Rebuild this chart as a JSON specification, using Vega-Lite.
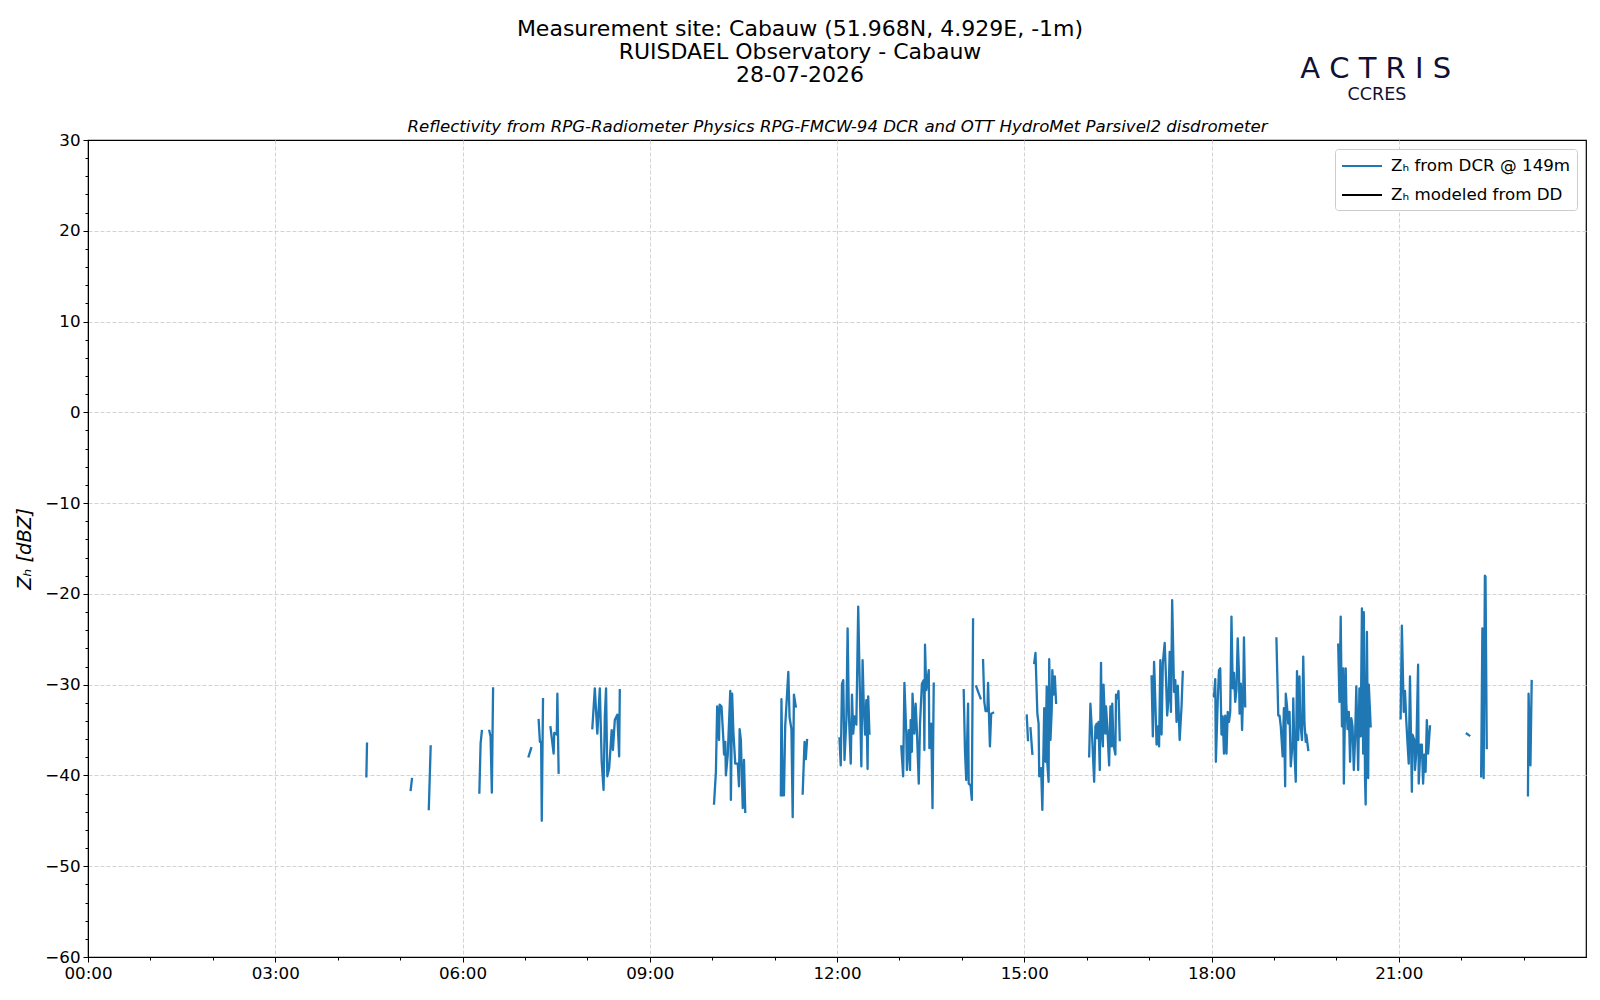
{
  "$schema": "https://vega.github.io/schema/vega-lite/v6.json",
  "autosize": {"type": "none"},
  "padding": {"left": 88, "top": 140, "right": 14, "bottom": 43},
  "width": 1498,
  "height": 817,
  "background": "white",
  "config": {
    "font": "DejaVu Sans",
    "view": {"stroke": "black", "strokeWidth": 1.2},
    "axis": {
      "labelFont": "DejaVu Sans",
      "labelFontSize": 16.7,
      "labelColor": "black",
      "domainColor": "black",
      "tickColor": "black",
      "gridColor": "#d3d3d3",
      "gridDash": [4, 2],
      "gridWidth": 1
    }
  },
  "title": {
    "text": ["Measurement site: Cabauw (51.968N, 4.929E, -1m)", "RUISDAEL Observatory - Cabauw", "28-07-2026"],
    "font": "DejaVu Sans",
    "fontSize": 22,
    "fontWeight": "normal",
    "color": "black",
    "anchor": "middle",
    "frame": "group",
    "dx": -37,
    "lineHeight": 23,
    "offset": -32
  },
  "data": {
    "values": [
      {"segment": 1, "hour": 4.46, "zh": -40.1}, {"segment": 1, "hour": 4.47, "zh": -36.5},
      {"segment": 2, "hour": 5.17, "zh": -41.6}, {"segment": 2, "hour": 5.19, "zh": -40.4},
      {"segment": 3, "hour": 5.46, "zh": -43.7}, {"segment": 3, "hour": 5.49, "zh": -36.8},
      {"segment": 4, "hour": 6.27, "zh": -41.9}, {"segment": 4, "hour": 6.29, "zh": -36.5}, {"segment": 4, "hour": 6.31, "zh": -35.1},
      {"segment": 5, "hour": 6.43, "zh": -35.1}, {"segment": 5, "hour": 6.45, "zh": -35.7}, {"segment": 5, "hour": 6.47, "zh": -41.9}, {"segment": 5, "hour": 6.49, "zh": -30.4},
      {"segment": 6, "hour": 7.06, "zh": -37.9}, {"segment": 6, "hour": 7.10, "zh": -37.0},
      {"segment": 7, "hour": 7.22, "zh": -33.9}, {"segment": 7, "hour": 7.24, "zh": -36.3}, {"segment": 7, "hour": 7.26, "zh": -36.3}, {"segment": 7, "hour": 7.27, "zh": -45.0}, {"segment": 7, "hour": 7.29, "zh": -31.6},
      {"segment": 8, "hour": 7.41, "zh": -34.7}, {"segment": 8, "hour": 7.46, "zh": -37.6}, {"segment": 8, "hour": 7.47, "zh": -35.3}, {"segment": 8, "hour": 7.51, "zh": -35.5}, {"segment": 8, "hour": 7.52, "zh": -31.0}, {"segment": 8, "hour": 7.54, "zh": -39.7},
      {"segment": 9, "hour": 8.08, "zh": -34.8}, {"segment": 9, "hour": 8.12, "zh": -30.4}, {"segment": 9, "hour": 8.16, "zh": -35.4}, {"segment": 9, "hour": 8.20, "zh": -30.4}, {"segment": 9, "hour": 8.23, "zh": -38.5}, {"segment": 9, "hour": 8.26, "zh": -41.6}, {"segment": 9, "hour": 8.28, "zh": -33.5}, {"segment": 9, "hour": 8.30, "zh": -30.4}, {"segment": 9, "hour": 8.32, "zh": -40.1}, {"segment": 9, "hour": 8.35, "zh": -39.2}, {"segment": 9, "hour": 8.39, "zh": -35.0}, {"segment": 9, "hour": 8.41, "zh": -37.2}, {"segment": 9, "hour": 8.44, "zh": -33.9}, {"segment": 9, "hour": 8.48, "zh": -33.3}, {"segment": 9, "hour": 8.51, "zh": -37.9}, {"segment": 9, "hour": 8.52, "zh": -30.6},
      {"segment": 10, "hour": 10.03, "zh": -43.1}, {"segment": 10, "hour": 10.06, "zh": -39.6}, {"segment": 10, "hour": 10.08, "zh": -32.4}, {"segment": 10, "hour": 10.11, "zh": -36.1}, {"segment": 10, "hour": 10.12, "zh": -32.2}, {"segment": 10, "hour": 10.15, "zh": -32.4}, {"segment": 10, "hour": 10.18, "zh": -36.1}, {"segment": 10, "hour": 10.19, "zh": -37.7}, {"segment": 10, "hour": 10.21, "zh": -36.3}, {"segment": 10, "hour": 10.22, "zh": -40.0}, {"segment": 10, "hour": 10.25, "zh": -37.7}, {"segment": 10, "hour": 10.29, "zh": -30.7}, {"segment": 10, "hour": 10.30, "zh": -42.7}, {"segment": 10, "hour": 10.32, "zh": -31.0}, {"segment": 10, "hour": 10.34, "zh": -35.2}, {"segment": 10, "hour": 10.37, "zh": -38.7}, {"segment": 10, "hour": 10.41, "zh": -38.7}, {"segment": 10, "hour": 10.43, "zh": -41.2}, {"segment": 10, "hour": 10.44, "zh": -34.9}, {"segment": 10, "hour": 10.46, "zh": -36.1}, {"segment": 10, "hour": 10.49, "zh": -43.6}, {"segment": 10, "hour": 10.51, "zh": -38.3}, {"segment": 10, "hour": 10.53, "zh": -44.0},
      {"segment": 11, "hour": 11.10, "zh": -42.2}, {"segment": 11, "hour": 11.11, "zh": -31.6}, {"segment": 11, "hour": 11.13, "zh": -42.2}, {"segment": 11, "hour": 11.15, "zh": -42.2}, {"segment": 11, "hour": 11.17, "zh": -34.6}, {"segment": 11, "hour": 11.22, "zh": -28.6}, {"segment": 11, "hour": 11.24, "zh": -33.6}, {"segment": 11, "hour": 11.27, "zh": -34.9}, {"segment": 11, "hour": 11.29, "zh": -44.6}, {"segment": 11, "hour": 11.31, "zh": -31.1}, {"segment": 11, "hour": 11.34, "zh": -32.4},
      {"segment": 12, "hour": 11.45, "zh": -42.0}, {"segment": 12, "hour": 11.48, "zh": -36.3}, {"segment": 12, "hour": 11.50, "zh": -38.2}, {"segment": 12, "hour": 11.52, "zh": -36.1},
      {"segment": 13, "hour": 12.04, "zh": -35.9}, {"segment": 13, "hour": 12.06, "zh": -38.9}, {"segment": 13, "hour": 12.08, "zh": -29.9}, {"segment": 13, "hour": 12.10, "zh": -29.5}, {"segment": 13, "hour": 12.12, "zh": -38.3}, {"segment": 13, "hour": 12.15, "zh": -33.9}, {"segment": 13, "hour": 12.17, "zh": -23.8}, {"segment": 13, "hour": 12.19, "zh": -33.2}, {"segment": 13, "hour": 12.22, "zh": -38.7}, {"segment": 13, "hour": 12.24, "zh": -31.1}, {"segment": 13, "hour": 12.26, "zh": -35.4}, {"segment": 13, "hour": 12.28, "zh": -33.5}, {"segment": 13, "hour": 12.31, "zh": -34.4}, {"segment": 13, "hour": 12.34, "zh": -21.4}, {"segment": 13, "hour": 12.39, "zh": -39.0}, {"segment": 13, "hour": 12.41, "zh": -27.3}, {"segment": 13, "hour": 12.43, "zh": -32.6}, {"segment": 13, "hour": 12.45, "zh": -35.5}, {"segment": 13, "hour": 12.47, "zh": -31.7}, {"segment": 13, "hour": 12.49, "zh": -39.3}, {"segment": 13, "hour": 12.50, "zh": -31.3}, {"segment": 13, "hour": 12.52, "zh": -35.4},
      {"segment": 14, "hour": 13.03, "zh": -36.8}, {"segment": 14, "hour": 13.06, "zh": -40.1}, {"segment": 14, "hour": 13.08, "zh": -29.8}, {"segment": 14, "hour": 13.11, "zh": -35.4}, {"segment": 14, "hour": 13.12, "zh": -39.4}, {"segment": 14, "hour": 13.15, "zh": -35.0}, {"segment": 14, "hour": 13.17, "zh": -39.4}, {"segment": 14, "hour": 13.18, "zh": -33.9}, {"segment": 14, "hour": 13.20, "zh": -37.4}, {"segment": 14, "hour": 13.21, "zh": -31.0}, {"segment": 14, "hour": 13.24, "zh": -35.4}, {"segment": 14, "hour": 13.26, "zh": -32.1}, {"segment": 14, "hour": 13.28, "zh": -35.0}, {"segment": 14, "hour": 13.31, "zh": -40.9}, {"segment": 14, "hour": 13.33, "zh": -34.3}, {"segment": 14, "hour": 13.36, "zh": -29.9}, {"segment": 14, "hour": 13.39, "zh": -29.5}, {"segment": 14, "hour": 13.40, "zh": -37.2}, {"segment": 14, "hour": 13.41, "zh": -25.6}, {"segment": 14, "hour": 13.43, "zh": -30.6}, {"segment": 14, "hour": 13.47, "zh": -28.4}, {"segment": 14, "hour": 13.48, "zh": -37.0}, {"segment": 14, "hour": 13.51, "zh": -34.3}, {"segment": 14, "hour": 13.53, "zh": -43.6}, {"segment": 14, "hour": 13.55, "zh": -29.9},
      {"segment": 15, "hour": 14.03, "zh": -30.6}, {"segment": 15, "hour": 14.05, "zh": -37.2}, {"segment": 15, "hour": 14.07, "zh": -40.5}, {"segment": 15, "hour": 14.10, "zh": -32.1}, {"segment": 15, "hour": 14.11, "zh": -40.9}, {"segment": 15, "hour": 14.14, "zh": -41.1}, {"segment": 15, "hour": 14.16, "zh": -42.7}, {"segment": 15, "hour": 14.18, "zh": -22.8},
      {"segment": 16, "hour": 14.23, "zh": -30.2}, {"segment": 16, "hour": 14.30, "zh": -31.5},
      {"segment": 17, "hour": 14.34, "zh": -27.3}, {"segment": 17, "hour": 14.36, "zh": -31.9}, {"segment": 17, "hour": 14.38, "zh": -32.9}, {"segment": 17, "hour": 14.41, "zh": -32.9}, {"segment": 17, "hour": 14.42, "zh": -29.8}, {"segment": 17, "hour": 14.45, "zh": -36.8}, {"segment": 17, "hour": 14.47, "zh": -33.2}, {"segment": 17, "hour": 14.50, "zh": -33.1},
      {"segment": 18, "hour": 15.04, "zh": -33.4}, {"segment": 18, "hour": 15.06, "zh": -36.1},
      {"segment": 19, "hour": 15.10, "zh": -34.8}, {"segment": 19, "hour": 15.13, "zh": -37.6},
      {"segment": 20, "hour": 15.16, "zh": -27.6}, {"segment": 20, "hour": 15.18, "zh": -26.5}, {"segment": 20, "hour": 15.21, "zh": -33.2}, {"segment": 20, "hour": 15.23, "zh": -34.3}, {"segment": 20, "hour": 15.24, "zh": -40.1}, {"segment": 20, "hour": 15.27, "zh": -39.2}, {"segment": 20, "hour": 15.29, "zh": -43.8}, {"segment": 20, "hour": 15.32, "zh": -32.6}, {"segment": 20, "hour": 15.34, "zh": -38.5}, {"segment": 20, "hour": 15.36, "zh": -30.2}, {"segment": 20, "hour": 15.37, "zh": -38.7}, {"segment": 20, "hour": 15.39, "zh": -40.7}, {"segment": 20, "hour": 15.40, "zh": -27.2}, {"segment": 20, "hour": 15.42, "zh": -36.1}, {"segment": 20, "hour": 15.44, "zh": -32.8}, {"segment": 20, "hour": 15.45, "zh": -28.4}, {"segment": 20, "hour": 15.47, "zh": -31.1}, {"segment": 20, "hour": 15.49, "zh": -29.1}, {"segment": 20, "hour": 15.51, "zh": -32.0},
      {"segment": 21, "hour": 16.04, "zh": -37.9}, {"segment": 21, "hour": 16.06, "zh": -32.1}, {"segment": 21, "hour": 16.08, "zh": -34.6}, {"segment": 21, "hour": 16.12, "zh": -40.7}, {"segment": 21, "hour": 16.14, "zh": -34.6}, {"segment": 21, "hour": 16.16, "zh": -34.3}, {"segment": 21, "hour": 16.17, "zh": -35.9}, {"segment": 21, "hour": 16.19, "zh": -34.1}, {"segment": 21, "hour": 16.21, "zh": -39.4}, {"segment": 21, "hour": 16.23, "zh": -27.6}, {"segment": 21, "hour": 16.24, "zh": -34.6}, {"segment": 21, "hour": 16.26, "zh": -36.8}, {"segment": 21, "hour": 16.27, "zh": -30.0}, {"segment": 21, "hour": 16.30, "zh": -35.4}, {"segment": 21, "hour": 16.31, "zh": -32.4}, {"segment": 21, "hour": 16.33, "zh": -34.6}, {"segment": 21, "hour": 16.36, "zh": -38.9}, {"segment": 21, "hour": 16.38, "zh": -32.4}, {"segment": 21, "hour": 16.40, "zh": -36.8}, {"segment": 21, "hour": 16.41, "zh": -32.1}, {"segment": 21, "hour": 16.43, "zh": -36.6}, {"segment": 21, "hour": 16.46, "zh": -37.7}, {"segment": 21, "hour": 16.47, "zh": -31.1}, {"segment": 21, "hour": 16.49, "zh": -31.5}, {"segment": 21, "hour": 16.51, "zh": -30.7}, {"segment": 21, "hour": 16.53, "zh": -36.1},
      {"segment": 22, "hour": 17.04, "zh": -29.1}, {"segment": 22, "hour": 17.06, "zh": -35.7}, {"segment": 22, "hour": 17.08, "zh": -27.5}, {"segment": 22, "hour": 17.09, "zh": -29.5}, {"segment": 22, "hour": 17.12, "zh": -36.6}, {"segment": 22, "hour": 17.14, "zh": -34.6}, {"segment": 22, "hour": 17.16, "zh": -36.8}, {"segment": 22, "hour": 17.18, "zh": -27.3}, {"segment": 22, "hour": 17.20, "zh": -35.5}, {"segment": 22, "hour": 17.22, "zh": -27.6}, {"segment": 22, "hour": 17.25, "zh": -25.4}, {"segment": 22, "hour": 17.27, "zh": -29.1}, {"segment": 22, "hour": 17.29, "zh": -33.4}, {"segment": 22, "hour": 17.31, "zh": -31.7}, {"segment": 22, "hour": 17.33, "zh": -26.4}, {"segment": 22, "hour": 17.35, "zh": -33.0}, {"segment": 22, "hour": 17.37, "zh": -20.7}, {"segment": 22, "hour": 17.40, "zh": -30.8}, {"segment": 22, "hour": 17.42, "zh": -29.5}, {"segment": 22, "hour": 17.44, "zh": -34.1}, {"segment": 22, "hour": 17.46, "zh": -30.1}, {"segment": 22, "hour": 17.49, "zh": -36.1}, {"segment": 22, "hour": 17.52, "zh": -32.4}, {"segment": 22, "hour": 17.54, "zh": -28.6},
      {"segment": 23, "hour": 18.04, "zh": -31.3}, {"segment": 23, "hour": 18.06, "zh": -29.4}, {"segment": 23, "hour": 18.07, "zh": -38.5}, {"segment": 23, "hour": 18.10, "zh": -31.7}, {"segment": 23, "hour": 18.12, "zh": -28.4}, {"segment": 23, "hour": 18.14, "zh": -28.2}, {"segment": 23, "hour": 18.16, "zh": -35.5}, {"segment": 23, "hour": 18.18, "zh": -33.5}, {"segment": 23, "hour": 18.20, "zh": -37.6}, {"segment": 23, "hour": 18.22, "zh": -33.4}, {"segment": 23, "hour": 18.24, "zh": -37.6}, {"segment": 23, "hour": 18.26, "zh": -33.0}, {"segment": 23, "hour": 18.28, "zh": -34.1}, {"segment": 23, "hour": 18.30, "zh": -33.0}, {"segment": 23, "hour": 18.32, "zh": -22.5}, {"segment": 23, "hour": 18.34, "zh": -30.4}, {"segment": 23, "hour": 18.36, "zh": -28.7}, {"segment": 23, "hour": 18.38, "zh": -31.9}, {"segment": 23, "hour": 18.40, "zh": -30.6}, {"segment": 23, "hour": 18.42, "zh": -24.9}, {"segment": 23, "hour": 18.44, "zh": -28.7}, {"segment": 23, "hour": 18.45, "zh": -33.2}, {"segment": 23, "hour": 18.47, "zh": -29.9}, {"segment": 23, "hour": 18.49, "zh": -35.0}, {"segment": 23, "hour": 18.51, "zh": -30.0}, {"segment": 23, "hour": 18.52, "zh": -24.8}, {"segment": 23, "hour": 18.54, "zh": -32.4},
      {"segment": 24, "hour": 19.04, "zh": -24.9}, {"segment": 24, "hour": 19.07, "zh": -33.4}, {"segment": 24, "hour": 19.09, "zh": -33.4}, {"segment": 24, "hour": 19.11, "zh": -34.6}, {"segment": 24, "hour": 19.14, "zh": -37.9}, {"segment": 24, "hour": 19.16, "zh": -32.6}, {"segment": 24, "hour": 19.18, "zh": -41.2}, {"segment": 24, "hour": 19.19, "zh": -31.0}, {"segment": 24, "hour": 19.21, "zh": -32.4}, {"segment": 24, "hour": 19.23, "zh": -34.3}, {"segment": 24, "hour": 19.25, "zh": -33.0}, {"segment": 24, "hour": 19.27, "zh": -39.0}, {"segment": 24, "hour": 19.30, "zh": -36.3}, {"segment": 24, "hour": 19.31, "zh": -31.5}, {"segment": 24, "hour": 19.33, "zh": -37.6}, {"segment": 24, "hour": 19.35, "zh": -40.7}, {"segment": 24, "hour": 19.37, "zh": -28.5}, {"segment": 24, "hour": 19.39, "zh": -36.1}, {"segment": 24, "hour": 19.41, "zh": -29.1}, {"segment": 24, "hour": 19.42, "zh": -33.9}, {"segment": 24, "hour": 19.45, "zh": -36.1}, {"segment": 24, "hour": 19.47, "zh": -26.9}, {"segment": 24, "hour": 19.49, "zh": -34.3}, {"segment": 24, "hour": 19.51, "zh": -36.3}, {"segment": 24, "hour": 19.52, "zh": -35.5}, {"segment": 24, "hour": 19.55, "zh": -37.2},
      {"segment": 25, "hour": 20.03, "zh": -25.6}, {"segment": 25, "hour": 20.05, "zh": -31.9}, {"segment": 25, "hour": 20.07, "zh": -22.5}, {"segment": 25, "hour": 20.09, "zh": -34.6}, {"segment": 25, "hour": 20.11, "zh": -28.2}, {"segment": 25, "hour": 20.12, "zh": -40.9}, {"segment": 25, "hour": 20.15, "zh": -28.2}, {"segment": 25, "hour": 20.16, "zh": -32.1}, {"segment": 25, "hour": 20.18, "zh": -34.9}, {"segment": 25, "hour": 20.20, "zh": -33.0}, {"segment": 25, "hour": 20.22, "zh": -38.5}, {"segment": 25, "hour": 20.24, "zh": -33.7}, {"segment": 25, "hour": 20.26, "zh": -34.6}, {"segment": 25, "hour": 20.28, "zh": -39.4}, {"segment": 25, "hour": 20.30, "zh": -36.1}, {"segment": 25, "hour": 20.32, "zh": -30.2}, {"segment": 25, "hour": 20.35, "zh": -39.4}, {"segment": 25, "hour": 20.37, "zh": -30.4}, {"segment": 25, "hour": 20.39, "zh": -35.7}, {"segment": 25, "hour": 20.41, "zh": -21.6}, {"segment": 25, "hour": 20.43, "zh": -37.6}, {"segment": 25, "hour": 20.44, "zh": -22.0}, {"segment": 25, "hour": 20.46, "zh": -40.5}, {"segment": 25, "hour": 20.47, "zh": -43.2}, {"segment": 25, "hour": 20.49, "zh": -24.2}, {"segment": 25, "hour": 20.51, "zh": -40.3}, {"segment": 25, "hour": 20.52, "zh": -30.0}, {"segment": 25, "hour": 20.55, "zh": -34.6},
      {"segment": 26, "hour": 21.03, "zh": -33.7}, {"segment": 26, "hour": 21.05, "zh": -23.5}, {"segment": 26, "hour": 21.08, "zh": -33.0}, {"segment": 26, "hour": 21.10, "zh": -30.7}, {"segment": 26, "hour": 21.12, "zh": -33.9}, {"segment": 26, "hour": 21.14, "zh": -36.4}, {"segment": 26, "hour": 21.16, "zh": -38.7}, {"segment": 26, "hour": 21.18, "zh": -29.1}, {"segment": 26, "hour": 21.21, "zh": -41.8}, {"segment": 26, "hour": 21.22, "zh": -35.5}, {"segment": 26, "hour": 21.25, "zh": -36.1}, {"segment": 26, "hour": 21.26, "zh": -39.4}, {"segment": 26, "hour": 21.28, "zh": -37.6}, {"segment": 26, "hour": 21.31, "zh": -27.8}, {"segment": 26, "hour": 21.32, "zh": -40.9}, {"segment": 26, "hour": 21.35, "zh": -36.6}, {"segment": 26, "hour": 21.37, "zh": -36.6}, {"segment": 26, "hour": 21.39, "zh": -40.9}, {"segment": 26, "hour": 21.41, "zh": -37.7}, {"segment": 26, "hour": 21.43, "zh": -39.6}, {"segment": 26, "hour": 21.45, "zh": -33.9}, {"segment": 26, "hour": 21.47, "zh": -37.6}, {"segment": 26, "hour": 21.50, "zh": -34.6},
      {"segment": 27, "hour": 22.09, "zh": -35.4}, {"segment": 27, "hour": 22.13, "zh": -35.6},
      {"segment": 28, "hour": 22.32, "zh": -40.1}, {"segment": 28, "hour": 22.34, "zh": -23.8}, {"segment": 28, "hour": 22.36, "zh": -40.3}, {"segment": 28, "hour": 22.38, "zh": -18.0}, {"segment": 28, "hour": 22.39, "zh": -18.1}, {"segment": 28, "hour": 22.41, "zh": -37.0},
      {"segment": 29, "hour": 23.07, "zh": -42.2}, {"segment": 29, "hour": 23.08, "zh": -31.0}, {"segment": 29, "hour": 23.11, "zh": -38.9}, {"segment": 29, "hour": 23.13, "zh": -29.6}
    ]
  },
  "layer": [
    {
      "mark": {"type": "line", "strokeWidth": 2.3, "strokeCap": "square", "strokeJoin": "round"},
      "encoding": {
        "x": {
          "field": "hour",
          "type": "quantitative",
          "scale": {"domain": [0, 24], "nice": false, "zero": false},
          "axis": {
            "title": null,
            "values": [0, 1, 2, 3, 4, 5, 6, 7, 8, 9, 10, 11, 12, 13, 14, 15, 16, 17, 18, 19, 20, 21, 22, 23],
            "labelExpr": "datum.value % 3 === 0 ? (datum.value < 10 ? '0' : '') + datum.value + ':00' : ''",
            "labelFlush": false,
            "labelOverlap": false,
            "labelPadding": 3,
            "tickSize": {"condition": {"test": "datum.value % 3 === 0", "value": 5}, "value": 3},
            "grid": true,
            "gridOpacity": {"condition": {"test": "datum.value % 3 === 0 && datum.value > 0", "value": 1}, "value": 0}
          }
        },
        "y": {
          "field": "zh",
          "type": "quantitative",
          "scale": {"domain": [-60, 30], "nice": false, "zero": false},
          "axis": {
            "title": "Zₕ [dBZ]",
            "titleFont": "DejaVu Sans",
            "titleFontSize": 19.5,
            "titleFontStyle": "italic",
            "titleFontWeight": "normal",
            "titleColor": "black",
            "titlePadding": 10,
            "format": "d",
            "values": [-60, -58, -56, -54, -52, -50, -48, -46, -44, -42, -40, -38, -36, -34, -32, -30, -28, -26, -24, -22, -20, -18, -16, -14, -12, -10, -8, -6, -4, -2, 0, 2, 4, 6, 8, 10, 12, 14, 16, 18, 20, 22, 24, 26, 28, 30],
            "labelExpr": "datum.value % 10 === 0 ? datum.label : ''",
            "labelOverlap": false,
            "labelPadding": 3,
            "tickSize": {"condition": {"test": "datum.value % 10 === 0", "value": 5}, "value": 3},
            "grid": true,
            "gridOpacity": {"condition": {"test": "datum.value % 10 === 0 && datum.value > -60 && datum.value < 30", "value": 1}, "value": 0}
          }
        },
        "detail": {"field": "segment", "type": "nominal"},
        "color": {
          "datum": "Zₕ from DCR @ 149m",
          "type": "nominal",
          "scale": {"domain": ["Zₕ from DCR @ 149m", "Zₕ modeled from DD"], "range": ["#1f77b4", "black"]},
          "legend": {
            "title": null,
            "orient": "top-right",
            "offset": 9,
            "symbolType": "M-1,0H3",
            "symbolSize": 400,
            "symbolStrokeWidth": 2,
            "labelFont": "DejaVu Sans",
            "labelFontSize": 16.7,
            "labelColor": "black",
            "labelLimit": 400,
            "labelOffset": 28,
            "rowPadding": 9,
            "padding": 6,
            "strokeColor": "#cccccc",
            "fillColor": "white",
            "cornerRadius": 3
          }
        }
      }
    },
    {
      "mark": {"type": "rule", "opacity": 0},
      "encoding": {
        "x": {
          "field": "hour",
          "type": "quantitative",
          "scale": {"domain": [0, 24], "nice": false, "zero": false},
          "axis": {
            "orient": "top",
            "labels": false,
            "ticks": false,
            "domain": false,
            "grid": false,
            "title": "Reflectivity from RPG-Radiometer Physics RPG-FMCW-94 DCR and OTT HydroMet Parsivel2 disdrometer",
            "titleFont": "DejaVu Sans",
            "titleFontSize": 16.6,
            "titleFontStyle": "italic",
            "titleFontWeight": "normal",
            "titleColor": "black",
            "titlePadding": 6
          }
        }
      }
    },
    {
      "data": {"values": [{"logo": "A C T R I S"}]},
      "mark": {"type": "text", "fontSize": 29, "color": "#111133", "align": "center", "baseline": "alphabetic"},
      "encoding": {
        "x": {"datum": 20.63, "type": "quantitative", "axis": null},
        "y": {"datum": 36.8, "type": "quantitative", "axis": null},
        "text": {"field": "logo"}
      }
    },
    {
      "data": {"values": [{"logo": "CCRES"}]},
      "mark": {"type": "text", "fontSize": 17.5, "color": "#111133", "align": "center", "baseline": "alphabetic"},
      "encoding": {
        "x": {"datum": 20.65, "type": "quantitative", "axis": null},
        "y": {"datum": 34.4, "type": "quantitative", "axis": null},
        "text": {"field": "logo"}
      }
    }
  ],
  "resolve": {"axis": {"x": "independent", "y": "independent"}}
}
